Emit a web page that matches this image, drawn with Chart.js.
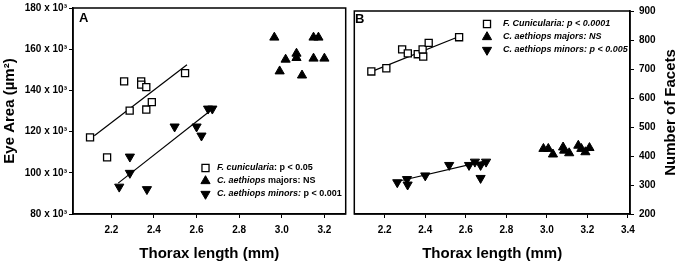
<!DOCTYPE html>
<html>
<head>
<meta charset="utf-8">
<script src="https://cdn.jsdelivr.net/npm/chart.js@4.4.1/dist/chart.umd.min.js"></script>
<style>
  html, body { margin: 0; padding: 0; background: #fff; }
  #wrap { position: relative; width: 680px; height: 261px; overflow: hidden; }
  canvas { position: absolute; top: 0; }
  #chartA { left: 0; }
  #chartB { left: 348px; }
</style>
</head>
<body>
<div id="wrap">
  <canvas id="chartA" width="352" height="261"></canvas>
  <canvas id="chartB" width="332" height="261"></canvas>
</div>
<script>
const FONT = 'Arial, "Liberation Sans", Helvetica, sans-serif';

// ---- Panel A: eye area (x10^3 um2) vs thorax length (mm)
const xTicksA = [2.2, 2.4, 2.6, 2.8, 3.0, 3.2];
const yTicksA = [80, 100, 120, 140, 160, 180];

const fcunA_x = [2.10, 2.18, 2.26, 2.286, 2.34, 2.34, 2.364, 2.364, 2.39, 2.546];
const fcunA_y = [117.2, 107.5, 144.4, 130.2, 144.4, 142.8, 141.6, 130.7, 134.3, 148.4];
const majA_x = [2.965, 2.99, 3.018, 3.069, 3.069, 3.095, 3.149, 3.172, 3.149, 3.2];
const majA_y = [165.7, 149.3, 155, 157.9, 155.8, 147.3, 165.7, 165.7, 155.5, 155.5];
const minA_x = [2.237, 2.287, 2.287, 2.367, 2.497, 2.6, 2.623, 2.654, 2.674];
const minA_y = [93.2, 107.8, 99.9, 92.0, 122.4, 122.4, 118, 131.1, 131.1];
// regression lines (end points)
const fitFcunA_x = [2.12, 2.555];
const fitFcunA_y = [118, 152.5];
const fitMinA_x = [2.232, 2.666];
const fitMinA_y = [95, 130.2];

// ---- Panel B: number of facets vs thorax length (mm)
const xTicksB = [2.2, 2.4, 2.6, 2.8, 3.0, 3.2, 3.4];
const yTicksB = [200, 300, 400, 500, 600, 700, 800, 900];

const fcunB_x = [2.134, 2.208, 2.286, 2.314, 2.363, 2.39, 2.387, 2.417, 2.567];
const fcunB_y = [691.5, 702.6, 767.7, 754, 751, 743, 767.7, 790, 809.6];
const majB_x = [2.983, 3.007, 3.03, 3.08, 3.085, 3.11, 3.155, 3.17, 3.19, 3.21];
const majB_y = [425, 425, 405.7, 430, 419, 410, 436, 425, 413.5, 428];
const minB_x = [2.262, 2.31, 2.313, 2.4, 2.518, 2.616, 2.645, 2.673, 2.673, 2.7];
const minB_y = [309, 320, 301, 332.5, 368.6, 368.6, 380, 368.6, 323.8, 380];
const fitFcunB_x = [2.134, 2.567];
const fitFcunB_y = [691, 812];
const fitMinB_x = [2.262, 2.697];
const fitMinB_y = [312, 383];

const pts = (xs, ys) => xs.map((x, i) => ({ x: x, y: ys[i] }));

const squareStyle = { pointStyle: 'rect', pointRadius: 5, backgroundColor: '#fff', borderColor: '#000', borderWidth: 1.3, rotation: 0 };
const upStyle = { pointStyle: 'triangle', pointRadius: 5.3, backgroundColor: '#000', borderColor: '#000', borderWidth: 1, rotation: 0 };
const downStyle = { pointStyle: 'triangle', pointRadius: 5.3, backgroundColor: '#000', borderColor: '#000', borderWidth: 1, rotation: 180 };

function lineSet(xs, ys) {
  return { data: pts(xs, ys), showLine: true, pointRadius: 0, borderColor: '#000', borderWidth: 1.2, order: 5 };
}
function pointSet(xs, ys, style) {
  return Object.assign({ data: pts(xs, ys), showLine: false, order: 1 }, style);
}

Chart.defaults.font.family = FONT;
Chart.defaults.color = '#000';

// draws full box around plot area
const framePlugin = {
  id: 'frame',
  afterDraw(chart) {
    const { ctx, chartArea: a } = chart;
    ctx.save();
    ctx.strokeStyle = '#000';
    ctx.lineWidth = 1.5;
    ctx.strokeRect(a.left, a.top, a.right - a.left, a.bottom - a.top);
    ctx.restore();
  }
};

// legend + panel letter, text pieces may be italic
function makeLegend(id, letter, letterX, letterY, markX, textX, rows, rowY) {
  return {
    id: id,
    afterDraw(chart) {
      const ctx = chart.ctx;
      ctx.save();
      ctx.fillStyle = '#000';
      ctx.font = 'bold 13px ' + FONT;
      ctx.textBaseline = 'alphabetic';
      ctx.fillText(letter, letterX, letterY);
      const styles = [squareStyle, upStyle, downStyle];
      rows.forEach((row, i) => {
        const y = rowY[i];
        const st = styles[i];
        ctx.save();
        ctx.fillStyle = st.backgroundColor;
        ctx.strokeStyle = st.borderColor;
        ctx.lineWidth = st.borderWidth;
        ctx.beginPath();
        Chart.helpers.drawPoint(ctx, { pointStyle: st.pointStyle, radius: st.pointRadius, rotation: st.rotation, borderWidth: st.borderWidth }, markX, y);
        ctx.restore();
        let x = textX;
        ctx.textBaseline = 'middle';
        ctx.fillStyle = '#000';
        row.forEach(piece => {
          ctx.font = (piece[1] ? 'italic ' : '') + 'bold 9px ' + FONT;
          ctx.fillText(piece[0], x, y);
          x += ctx.measureText(piece[0]).width;
        });
      });
      ctx.restore();
    }
  };
}

function tickGrid() {
  return { drawOnChartArea: false, drawTicks: true, tickLength: 4, color: '#000', lineWidth: 1 };
}

const legendA = makeLegend('legendA', 'A', 79, 22, 205.5, 217, [
  [['F. cunicularia', true], [': p < 0.05', false]],
  [['C. aethiops', true], [' majors: NS', false]],
  [['C. aethiops minors:', true], [' p < 0.001', false]]
], [168, 181, 194]);

new Chart(document.getElementById('chartA'), {
  type: 'scatter',
  data: {
    datasets: [
      lineSet(fitFcunA_x, fitFcunA_y),
      lineSet(fitMinA_x, fitMinA_y),
      pointSet(fcunA_x, fcunA_y, squareStyle),
      pointSet(majA_x, majA_y, upStyle),
      pointSet(minA_x, minA_y, downStyle)
    ]
  },
  options: {
    responsive: false,
    animation: false,
    events: [],
    layout: { padding: { left: 0, right: 1, top: 7, bottom: 0 } },
    plugins: { legend: { display: false }, tooltip: { enabled: false } },
    scales: {
      x: {
        type: 'linear', min: 2.02, max: 3.30,
        afterBuildTicks: s => { s.ticks = xTicksA.map(v => ({ value: v })); },
        afterFit: s => { s.height = 47; },
        ticks: { callback: v => v.toFixed(1), font: { size: 10, weight: 'bold' }, padding: 6, maxRotation: 0 },
        grid: tickGrid(),
        border: { color: '#000', width: 1.5 },
        title: { display: true, text: 'Thorax length (mm)', font: { size: 15, weight: 'bold' }, padding: { top: 0, bottom: -1.5 } }
      },
      y: {
        type: 'linear', min: 80, max: 180,
        afterBuildTicks: s => { s.ticks = yTicksA.map(v => ({ value: v })); },
        afterFit: s => { s.width = 73; },
        ticks: { callback: v => v + ' x 10\u00B3', font: { size: 10, weight: 'bold' }, padding: 2 },
        grid: tickGrid(),
        border: { color: '#000', width: 1.5 },
        title: { display: true, text: 'Eye Area (\u00B5m\u00B2)', font: { size: 15, weight: 'bold' }, padding: { top: 1, bottom: 0 } }
      }
    }
  },
  plugins: [framePlugin, legendA]
});

const legendB = makeLegend('legendB', 'B', 7, 23, 139, 155, [
  [['F. Cunicularia: p < 0.0001', true]],
  [['C. aethiops majors: NS', true]],
  [['C. aethiops minors: p < 0.005', true]]
], [24, 37, 50]);

const rightTitle = {
  id: 'rightTitle',
  afterDraw(chart) {
    const { ctx, chartArea: a } = chart;
    ctx.save();
    ctx.translate(323, (a.top + a.bottom) / 2);
    ctx.rotate(-Math.PI / 2);
    ctx.font = 'bold 15px ' + FONT;
    ctx.fillStyle = '#000';
    ctx.textAlign = 'center';
    ctx.textBaseline = 'middle';
    ctx.fillText('Number of Facets', 0, 0);
    ctx.restore();
  }
};

new Chart(document.getElementById('chartB'), {
  type: 'scatter',
  data: {
    datasets: [
      lineSet(fitFcunB_x, fitFcunB_y),
      lineSet(fitMinB_x, fitMinB_y),
      pointSet(fcunB_x, fcunB_y, squareStyle),
      pointSet(majB_x, majB_y, upStyle),
      pointSet(minB_x, minB_y, downStyle)
    ]
  },
  options: {
    responsive: false,
    animation: false,
    events: [],
    layout: { padding: { left: 3, right: 0, top: 7, bottom: 0 } },
    plugins: { legend: { display: false }, tooltip: { enabled: false } },
    scales: {
      x: {
        type: 'linear', min: 2.05, max: 3.41,
        afterBuildTicks: s => { s.ticks = xTicksB.map(v => ({ value: v })); },
        afterFit: s => { s.height = 47; },
        ticks: { callback: v => v.toFixed(1), font: { size: 10, weight: 'bold' }, padding: 6, maxRotation: 0 },
        grid: tickGrid(),
        border: { color: '#000', width: 1.5 },
        title: { display: true, text: 'Thorax length (mm)', font: { size: 15, weight: 'bold' }, padding: { top: 0, bottom: -1.5 } }
      },
      y: {
        type: 'linear', position: 'right', min: 200, max: 900,
        afterBuildTicks: s => { s.ticks = yTicksB.map(v => ({ value: v })); },
        afterFit: s => { s.width = 50; },
        ticks: { font: { size: 10, weight: 'bold' }, padding: 5 },
        grid: tickGrid(),
        border: { color: '#000', width: 1.5 }
      }
    }
  },
  plugins: [framePlugin, legendB, rightTitle]
});
</script>
</body>
</html>
